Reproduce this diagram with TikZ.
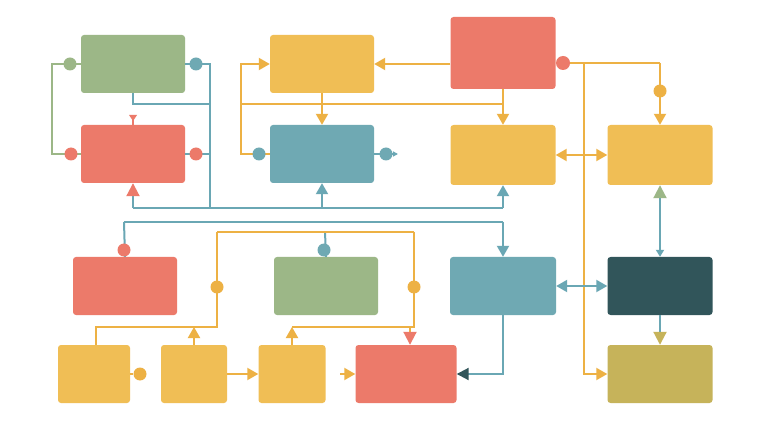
\documentclass[tikz,border=0pt]{standalone}
\usetikzlibrary{arrows.meta}
\definecolor{cgreen}{HTML}{9CB787}
\definecolor{cred}{HTML}{EC7A6A}
\definecolor{cyel}{HTML}{F0BE55}
\definecolor{cteal}{HTML}{6FA9B3}
\definecolor{cdark}{HTML}{31555A}
\definecolor{colive}{HTML}{C6B35A}
\definecolor{lyel}{HTML}{EDB144}
\definecolor{lteal}{HTML}{6AA7B4}
\begin{document}
\begin{tikzpicture}[x=1pt,y=-1pt,
  box/.style={draw=none,rounded corners=3pt,inner sep=0pt},
  wbox/.style={box,minimum width=104pt,minimum height=58pt},
  dotn/.style={circle,inner sep=0pt,minimum size=13pt},
  yl/.style={draw=lyel,line width=2pt},
  tl/.style={draw=lteal,line width=2pt},
  gl/.style={draw=cgreen,line width=2pt},
  ar/.style={-{Triangle[length=11pt,width=12pt]}},
  dar/.style={{Triangle[length=11pt,width=12pt]}-{Triangle[length=11pt,width=12pt]}}]
\useasboundingbox (0,0) rectangle (768,430);
\fill[white] (0,0) rectangle (768,430);
% boxes
\node[wbox,fill=cgreen] (A) at (133,64) {};
\node[box,fill=cred,minimum width=105pt,minimum height=72pt] (B) at (503,53) {};
\node[wbox,fill=cyel] (C) at (322,64) {};
\node[wbox,fill=cred] (D) at (133,154) {};
\node[wbox,fill=cteal] (E) at (322,154) {};
\node[box,fill=cyel,minimum width=105pt,minimum height=60pt] (F) at (503,155) {};
\node[box,fill=cyel,minimum width=105pt,minimum height=60pt] (G) at (660,155) {};
\node[wbox,fill=cred] (H) at (125,286) {};
\node[wbox,fill=cgreen] (I) at (326,286) {};
\node[box,fill=cteal,minimum width=106pt,minimum height=58pt] (J) at (503,286) {};
\node[box,fill=cdark,minimum width=105pt,minimum height=58pt] (K) at (660,286) {};
\node[box,fill=cyel,minimum width=72pt,minimum height=58pt] (L) at (94,374) {};
\node[box,fill=cyel,minimum width=66pt,minimum height=58pt] (M) at (194,374) {};
\node[box,fill=cyel,minimum width=67pt,minimum height=58pt] (N) at (292,374) {};
\node[box,fill=cred,minimum width=101pt,minimum height=58pt] (O) at (406,374) {};
\node[box,fill=colive,minimum width=105pt,minimum height=58pt] (P) at (660,374) {};
% coordinates
\coordinate (tb1) at (133,208);
\coordinate (tb2) at (503,208);
\coordinate (yb) at (241,104);
\coordinate (c2) at (124,222);
\coordinate (y3) at (217,232);
\coordinate (y4) at (414,232);
\coordinate (oin) at (340,374);
\coordinate (mj) at (194,327);
\coordinate (nj) at (292,327);
% left green loop
\draw[gl] (A.west) -- (52,64) -- (52,154) -- (D.west);
\node[dotn,fill=cgreen] (dA) at (70,64) {};
\node[dotn,fill=cred] (dD) at (71,154) {};
% teal lines top-left
\draw[tl] (A.east) -- (210,64) -- (210,208);
\draw[tl] (A.south) -- (133,104) -- (210,104);
\draw[tl] (D.east) -- (210,154);
\node[dotn,fill=cteal] (dA2) at (196,64) {};
\node[dotn,fill=cred] (dD2) at (196,154) {};
\draw[draw=cred,line width=1.5pt] (133,118) -- (D.north);
\fill[cred] (129,115) -- (137,115) -- (133,121) -- cycle;
% teal bus
\draw[tl] (tb1) -- (tb2);
\draw[tl,-{Triangle[length=13pt,width=13pt,color=cred]}] (tb1) -- (D.south);
\draw[tl,ar] (322,208) -- (E.south);
\draw[tl,ar] (tb2) -- (F.south);
% yellow top
\draw[yl,ar] (B.west |- C.east) -- (C.east);
\draw[yl] (yb) -- (503,104);
\draw[yl,ar] (B.south) -- (F.north);
\draw[yl,ar] (C.south) -- (E.north);
\draw[yl,ar] (yb) -- (241,64) -- (C.west);
\draw[yl] (yb) -- (241,154) -- (E.west);
\node[dotn,fill=cteal] (dE) at (259,154) {};
\draw[tl,-{Triangle[length=5pt,width=5pt]}] (E.east) -- (398,154);
\node[dotn,fill=cteal] (dE2) at (386,154) {};
% right side
\draw[yl] (B.east |- 0,63) -- (660,63);
\draw[yl,ar] (660,63) -- (G.north);
\node[dotn,fill=lyel] (dG) at (660,91) {};
\node[dotn,fill=cred,minimum size=14pt] (dB) at (563,63) {};
\draw[yl,ar] (584,63) -- (584,374) -- (P.west);
\draw[yl,dar] (F.east) -- (G.west);
\draw[tl,{Triangle[length=13pt,width=13pt,color=cgreen]}-{Triangle[length=7pt,width=8pt]}] (G.south) -- (K.north);
\draw[tl,-{Triangle[length=13pt,width=13pt,color=colive]}] (K.south) -- (P.north);
\draw[tl,dar] (J.east) -- (K.west);
\draw[tl,-{Triangle[length=12pt,width=12pt,color=cdark]}] (J.south) -- (503,374) -- (O.east);
% second teal bus
\draw[tl] (c2) -- (503,222);
\draw[tl,ar] (503,222) -- (J.north);
\draw[tl] (c2) -- (H.north);
\node[dotn,fill=cred] (dH) at (124,250) {};
\draw[tl] (325,232) -- (I.north);
\node[dotn,fill=cteal] (dI) at (324,250) {};
% yellow bottom
\draw[yl] (y3) -- (y4);
\draw[yl] (y3) -- (217,327) -- (96,327) -- (96,345);
\draw[yl,ar] (M.north) -- (mj);
\node[dotn,fill=lyel] (d3) at (217,287) {};
\draw[yl] (y4) -- (414,327) -- (nj);
\draw[yl,-{Triangle[length=13pt,width=13pt,color=cred]}] (410,327) -- (O.north -| 410,0);
\draw[yl,ar] (N.north) -- (nj);
\node[dotn,fill=lyel] (d4) at (414,287) {};
\node[dotn,fill=lyel] (dL) at (140,374) {};
\draw[yl] (L.east) -- (dL);
\draw[yl,ar] (M.east) -- (N.west);
\draw[yl,ar] (oin) -- (O.west);
\end{tikzpicture}
\end{document}
